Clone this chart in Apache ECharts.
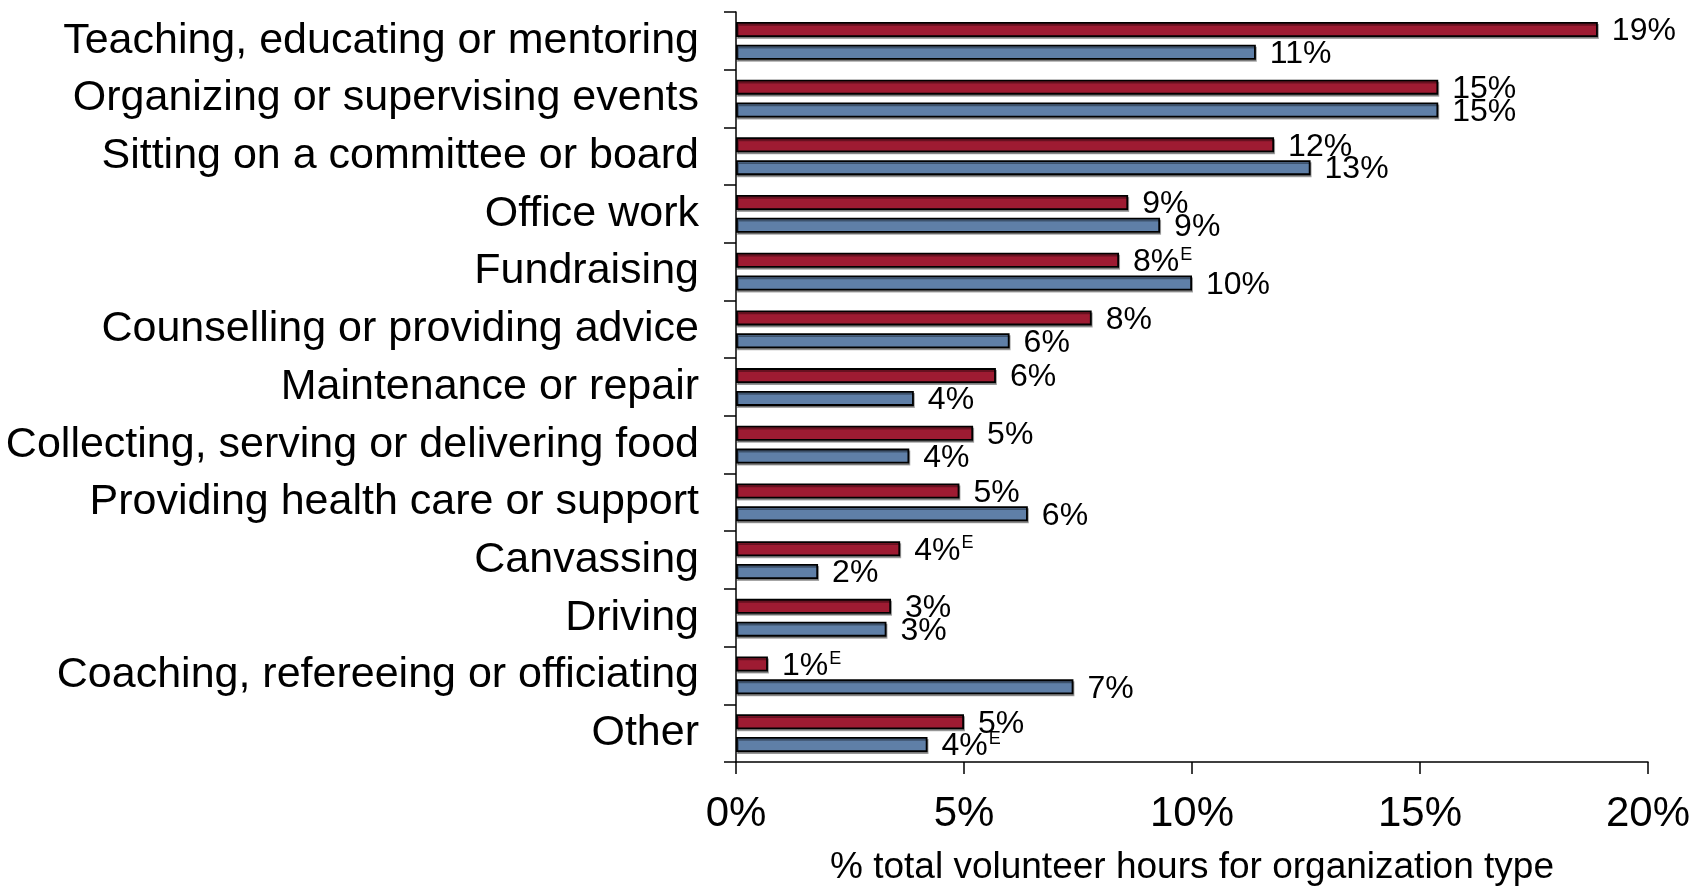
<!DOCTYPE html>
<html>
<head>
<meta charset="utf-8">
<script src="https://cdn.jsdelivr.net/npm/echarts@6/dist/echarts.min.js"></script>
<style>html,body{margin:0;padding:0;background:#fff}#c{width:1693px;height:886px}</style>
</head>
<body>
<div id="c"></div>
<script>
const categories = [
  "Teaching, educating or mentoring",
  "Organizing or supervising events",
  "Sitting on a committee or board",
  "Office work",
  "Fundraising",
  "Counselling or providing advice",
  "Maintenance or repair",
  "Collecting, serving or delivering food",
  "Providing health care or support",
  "Canvassing",
  "Driving",
  "Coaching, refereeing or officiating",
  "Other"
];
const redValues  = [18.9, 15.4, 11.8, 8.6, 8.4, 7.8, 5.7, 5.2, 4.9, 3.6, 3.4, 0.7, 5.0];
const blueValues = [11.4, 15.4, 12.6, 9.3, 10.0, 6.0, 3.9, 3.8, 6.4, 1.8, 3.3, 7.4, 4.2];
const redEstimate  = [0,0,0,0,1,0,0,0,0,1,0,1,0];
const blueEstimate = [0,0,0,0,0,0,0,0,0,0,0,0,1];
const xTicks = [0, 5, 10, 15, 20];
const axisTitle = "% total volunteer hours for organization type";

const FONT = '"Liberation Sans", Arial, sans-serif';
const chart = echarts.init(document.getElementById('c'), null, {renderer: 'canvas'});

function labelFor(flags) {
  return {
    show: true,
    position: 'right',
    distance: 14,
    offset: [0, 2],
    fontFamily: FONT,
    fontSize: 32,
    color: '#000',
    formatter: p => Math.round(p.value) + '%' + (flags[p.dataIndex] ? '{e|E}' : ''),
    rich: {
      e: { fontSize: 18, fontFamily: FONT, color: '#000', verticalAlign: 'top', padding: [0, 0, 15, 1] }
    }
  };
}

function barStyle(color) {
  return {
    color: color,
    borderColor: '#000',
    borderWidth: 1.8,
    shadowColor: 'rgba(0,0,0,0.35)',
    shadowOffsetX: 1,
    shadowOffsetY: 2,
    shadowBlur: 0
  };
}

chart.setOption({
  animation: false,
  backgroundColor: '#fff',
  grid: { left: 736, right: 45, top: 12, bottom: 124, containLabel: false, outerBoundsMode: 'none' },
  xAxis: {
    type: 'value',
    min: xTicks[0],
    max: xTicks[xTicks.length - 1],
    interval: 5,
    splitLine: { show: false },
    axisLine: { show: true, lineStyle: { color: '#000', width: 1.5 } },
    axisTick: { show: true, length: 12, lineStyle: { color: '#000', width: 1.5 } },
    axisLabel: { fontFamily: FONT, fontSize: 42, color: '#000', margin: 31, formatter: v => v + '%' },
    name: axisTitle,
    nameLocation: 'middle',
    nameGap: 87,
    nameTextStyle: { fontFamily: FONT, fontSize: 37, color: '#000' }
  },
  yAxis: {
    type: 'category',
    inverse: true,
    data: categories,
    axisLine: { show: true, lineStyle: { color: '#000', width: 1.5 } },
    axisTick: { show: true, length: 12, lineStyle: { color: '#000', width: 1.5 } },
    axisLabel: { fontFamily: FONT, fontSize: 43, color: '#000', margin: 37 }
  },
  series: [
    { name: 'A', type: 'bar', data: redValues, barWidth: 15, barGap: '52%',
      itemStyle: barStyle('#9E1B32'), label: labelFor(redEstimate) },
    { name: 'B', type: 'bar', data: blueValues, barWidth: 15,
      itemStyle: barStyle('#5F7FA7'), label: labelFor(blueEstimate) }
  ]
});
</script>
</body>
</html>
